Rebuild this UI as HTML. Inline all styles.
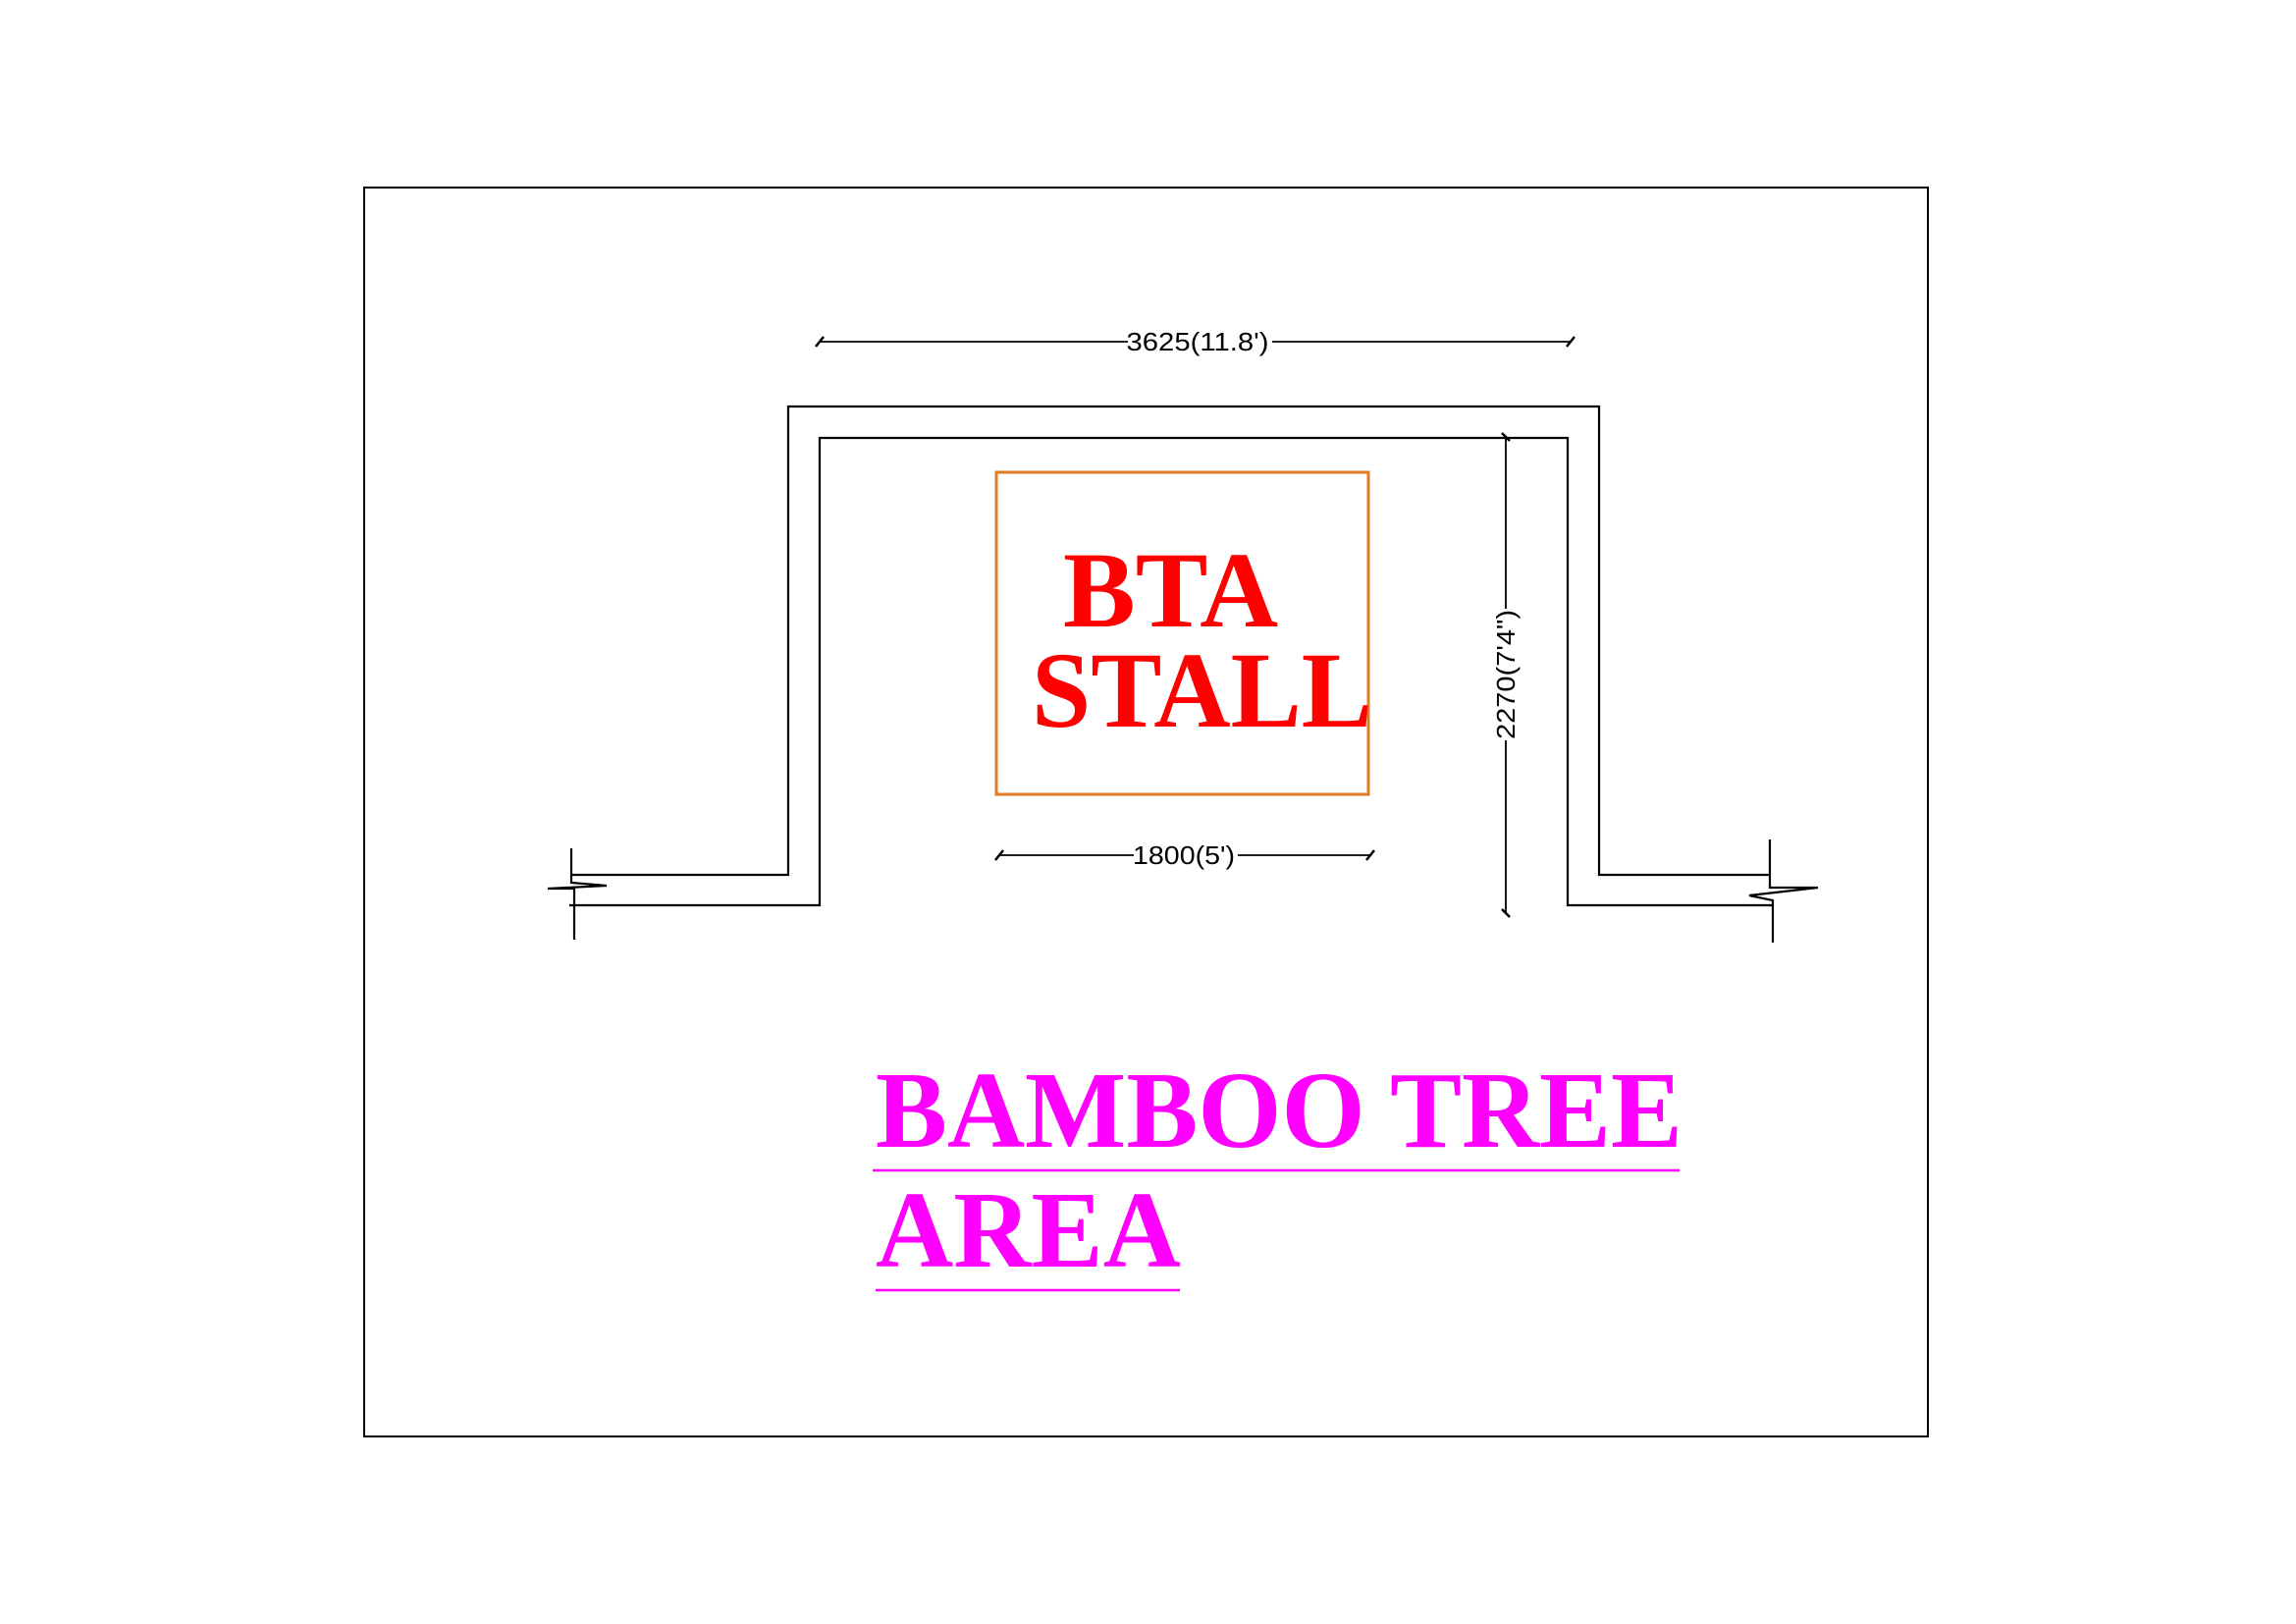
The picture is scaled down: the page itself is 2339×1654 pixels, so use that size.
<!DOCTYPE html>
<html><head><meta charset="utf-8"><style>
html,body{margin:0;padding:0;background:#fff}
svg{display:block}
</style></head><body>
<svg width="2339" height="1654" viewBox="0 0 2339 1654" xmlns="http://www.w3.org/2000/svg">
<rect x="0" y="0" width="2339" height="1654" fill="#fff"/>
<rect x="371" y="191" width="1593" height="1272" fill="none" stroke="#000" stroke-width="2"/>
<g fill="none" stroke="#000" stroke-width="2.2">
<polyline points="582,891 803,891 803,414 1629,414 1629,891 1803,891"/>
<polyline points="580,922 835,922 835,446 1597,446 1597,922 1806,922"/>
<polyline points="582,864 582,899 618,902 558,905 585,905 585,957"/>
<polyline points="1803,855 1803,904 1852,904 1782,912 1806,917 1806,960"/>
</g>
<g stroke="#000" stroke-width="1.8">
<line x1="835" y1="348" x2="1600" y2="348"/>
<line x1="831" y1="353" x2="839" y2="343" stroke-width="2.5"/>
<line x1="1596" y1="353" x2="1604" y2="343" stroke-width="2.5"/>
<line x1="1018" y1="871" x2="1396" y2="871"/>
<line x1="1014" y1="876" x2="1022" y2="866" stroke-width="2.5"/>
<line x1="1392" y1="876" x2="1400" y2="866" stroke-width="2.5"/>
<line x1="1534" y1="445" x2="1534" y2="930"/>
<line x1="1530" y1="441" x2="1538" y2="449" stroke-width="2.5"/>
<line x1="1530" y1="926" x2="1538" y2="934" stroke-width="2.5"/>
</g>
<rect x="1149" y="336" width="147" height="24" fill="#fff"/>
<text x="1220" y="357" font-family="Liberation Sans, sans-serif" font-size="26" text-anchor="middle" textLength="145" lengthAdjust="spacingAndGlyphs">3625(11.8')</text>
<rect x="1155" y="859" width="106" height="24" fill="#fff"/>
<text x="1206" y="880" font-family="Liberation Sans, sans-serif" font-size="26" text-anchor="middle" textLength="104" lengthAdjust="spacingAndGlyphs">1800(5')</text>
<rect x="1522" y="620" width="24" height="134" fill="#fff"/>
<text transform="translate(1543,687) rotate(-90)" x="0" y="0" font-family="Liberation Sans, sans-serif" font-size="26" text-anchor="middle" textLength="132" lengthAdjust="spacingAndGlyphs">2270(7'4")</text>
<rect x="1015" y="481" width="379" height="328" fill="none" stroke="#e07b20" stroke-width="3"/>
<text x="1083" y="638" font-family="Liberation Serif, serif" font-weight="bold" font-size="110" fill="#ff0000" textLength="219" lengthAdjust="spacingAndGlyphs">BTA</text>
<text x="1051" y="740" font-family="Liberation Serif, serif" font-weight="bold" font-size="110" fill="#ff0000" textLength="347" lengthAdjust="spacingAndGlyphs">STALL</text>
<text x="892" y="1168" font-family="Liberation Serif, serif" font-weight="bold" font-size="111" fill="#ff00ff" textLength="822" lengthAdjust="spacingAndGlyphs">BAMBOO TREE</text>
<line x1="889" y1="1192" x2="1711" y2="1192" stroke="#ff00ff" stroke-width="2.5"/>
<text x="892" y="1290" font-family="Liberation Serif, serif" font-weight="bold" font-size="111" fill="#ff00ff" textLength="311" lengthAdjust="spacingAndGlyphs">AREA</text>
<line x1="892" y1="1314" x2="1202" y2="1314" stroke="#ff00ff" stroke-width="2.5"/>
</svg>
</body></html>
